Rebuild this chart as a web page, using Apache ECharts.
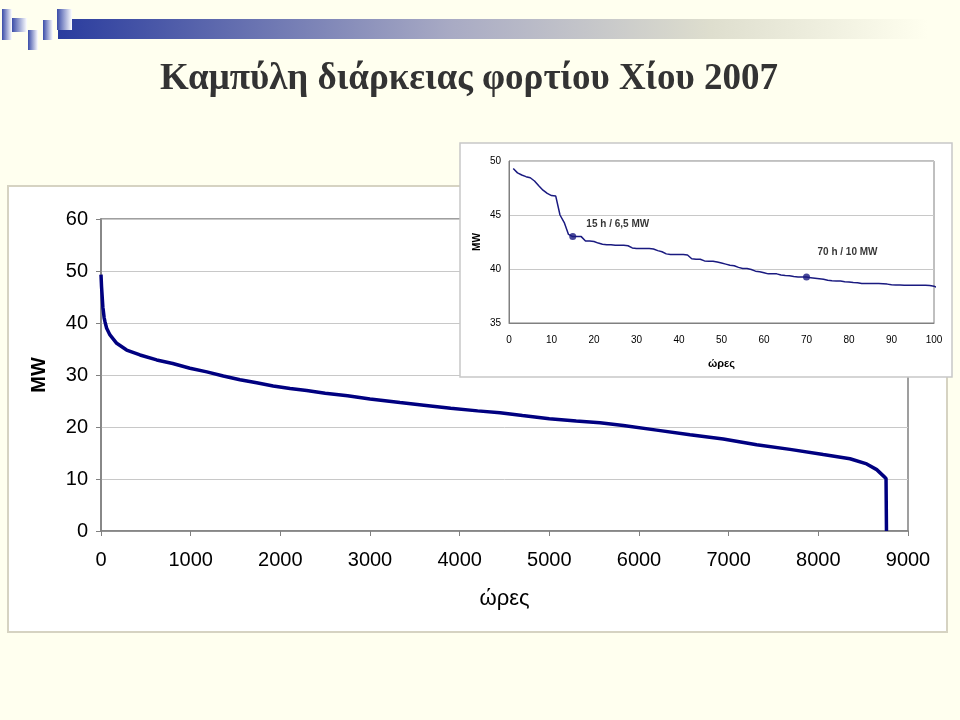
<!DOCTYPE html>
<html>
<head>
<meta charset="utf-8">
<script src="https://cdn.jsdelivr.net/npm/echarts@6/dist/echarts.min.js"></script>
<style>
html,body{margin:0;padding:0;background:#FFFFEF;}
#c{width:960px;height:720px;}
</style>
</head>
<body>
<div id="c"></div>
<script>
// ---- data ----
const titleText = 'Καμπύλη διάρκειας φορτίου Χίου 2007';
const xName = 'ώρες';
const yName = 'MW';
// main load-duration curve: [hour, MW]
const mainHours = [0,5,6,20,21,25,35,45,63,100,175,286,435,621,800,992,1180,1364,1550,1736,1920,2108,2294,2500,2750,3000,3334,3600,3900,4200,4450,4700,5000,5300,5565,5825,6197,6569,6940,7312,7684,8055,8353,8539,8651,8725,8755,8760];
const mainMW    = [49.3,49.3,47.0,46.8,43.0,42.5,41.0,40.2,39.0,37.7,36.1,34.8,33.85,32.9,32.2,31.3,30.6,29.8,29.1,28.5,27.9,27.4,27.0,26.5,26.0,25.4,24.7,24.2,23.6,23.1,22.75,22.2,21.6,21.15,20.8,20.3,19.4,18.5,17.7,16.6,15.7,14.7,13.9,12.9,11.8,10.6,10.1,0];
// inset: first 101 hours
const insetMW = [49.3,48.9,48.7,48.55,48.45,48.15,47.7,47.3,47.0,46.8,46.75,45.0,44.3,43.2,43.0,43.0,43.0,42.6,42.6,42.55,42.4,42.3,42.25,42.25,42.2,42.2,42.2,42.15,41.95,41.9,41.9,41.9,41.9,41.85,41.7,41.6,41.4,41.35,41.35,41.35,41.35,41.3,40.95,40.9,40.9,40.75,40.72,40.72,40.65,40.55,40.45,40.35,40.3,40.15,40.05,40.05,39.95,39.8,39.75,39.65,39.55,39.55,39.55,39.45,39.4,39.38,39.3,39.25,39.25,39.25,39.2,39.15,39.1,39.05,38.95,38.92,38.9,38.88,38.83,38.8,38.75,38.72,38.65,38.65,38.65,38.65,38.65,38.63,38.6,38.55,38.52,38.52,38.5,38.5,38.5,38.5,38.5,38.5,38.48,38.4,38.25];
const markHours = [15, 70];
const markMW = [43.0, 39.25];
const markLabels = ['15 h / 6,5 MW', '70 h / 10 MW'];

const mainData = mainHours.map((h,i)=>[h, mainMW[i]]);
const insetData = insetMW.map((v,i)=>[i+1, v]);
const markData = markHours.map((h,i)=>({value:[h, markMW[i]], label:{formatter: markLabels[i], offset: i===0 ? [45,-12] : [41,-25]}}));

const chart = echarts.init(document.getElementById('c'), null, {renderer:'canvas'});
const F = 'Liberation Sans, Arial, sans-serif';
const navy = '#000080';
const gray = '#808080';
const gridC = '#C8C8C8';
const plain = v => String(v);

const blueGrad = (c1,c2)=>new echarts.graphic.LinearGradient(0,0,1,0,[{offset:0,color:c1},{offset:1,color:c2}]);

chart.setOption({
  backgroundColor:'#FFFFEF',
  animation:false,
  graphic:[
    // header bar
    {type:'rect', shape:{x:58,y:19,width:870,height:20}, style:{fill:new echarts.graphic.LinearGradient(0,0,1,0,[{offset:0,color:'#2A3C9E'},{offset:0.45,color:'#A8AAC4'},{offset:0.75,color:'#DEDECE'},{offset:1,color:'#FFFFEF'}])}, z:1},
    {type:'rect', shape:{x:2,y:9,width:10,height:31}, style:{fill:blueGrad('#3A4CA8','#FFFFFF')}, z:2},
    {type:'rect', shape:{x:12,y:18,width:15,height:14}, style:{fill:blueGrad('#3A4CA8','#FFFFFF')}, z:2},
    {type:'rect', shape:{x:28,y:30,width:10,height:20}, style:{fill:blueGrad('#3A4CA8','#FFFFFF')}, z:2},
    {type:'rect', shape:{x:43,y:20,width:10,height:20}, style:{fill:blueGrad('#3A4CA8','#FFFFFF')}, z:2},
    {type:'rect', shape:{x:57,y:9,width:15,height:21}, style:{fill:blueGrad('#3A4CA8','#FFFFFF')}, z:2},
    // title
    {type:'text', x:469, y:79, style:{text:titleText, font:'bold 37px "Liberation Serif", "Times New Roman", serif', fill:'#333333', textAlign:'center', textVerticalAlign:'middle'}, z:2},
    // main chart box
    {type:'rect', shape:{x:8,y:186,width:939,height:446}, style:{fill:'#FFFFFF', stroke:'#D6D3C2', lineWidth:2}, z:-1},
    // inset box
    {type:'rect', shape:{x:460,y:143,width:492,height:234}, style:{fill:'#FFFFFF', stroke:'#C8C8C8', lineWidth:1.5}, z:10}
  ],
  grid:[
    {left:101, top:219, width:807, height:312, show:true, borderColor:gray, borderWidth:1.5, backgroundColor:'transparent', z:1},
    {left:509, top:161, width:425, height:162, show:true, borderColor:gray, borderWidth:1, backgroundColor:'transparent', z:11}
  ],
  xAxis:[
    {type:'value', gridIndex:0, min:0, max:9000, interval:1000, z:1,
     axisLine:{show:true, lineStyle:{color:gray, width:1.5}},
     axisTick:{show:true, length:5, lineStyle:{color:gray}},
     splitLine:{show:false},
     axisLabel:{fontFamily:F, fontSize:20, color:'#000', margin:19, formatter:plain},
     name:xName, nameLocation:'middle', nameGap:57, nameTextStyle:{fontFamily:F, fontSize:22, color:'#000'}},
    {type:'value', gridIndex:1, min:0, max:100, interval:10, z:11,
     axisLine:{show:true, lineStyle:{color:gray, width:1}},
     axisTick:{show:false},
     splitLine:{show:false},
     axisLabel:{fontFamily:F, fontSize:10, color:'#000', margin:12, formatter:plain},
     name:xName, nameLocation:'middle', nameGap:35, nameTextStyle:{fontFamily:F, fontSize:11, fontWeight:'bold', color:'#000'}}
  ],
  yAxis:[
    {type:'value', gridIndex:0, min:0, max:60, interval:10, z:1,
     axisLine:{show:true, lineStyle:{color:gray, width:1.5}},
     axisTick:{show:true, length:5, lineStyle:{color:gray}},
     splitLine:{show:true, lineStyle:{color:gridC, width:1}},
     axisLabel:{fontFamily:F, fontSize:20, color:'#000', margin:13, formatter:plain},
     name:yName, nameLocation:'middle', nameGap:52, nameRotate:90, nameTextStyle:{fontFamily:F, fontSize:20, fontWeight:'bold', color:'#000'}},
    {type:'value', gridIndex:1, min:35, max:50, interval:5, z:11,
     axisLine:{show:true, lineStyle:{color:gray, width:1}},
     axisTick:{show:false},
     splitLine:{show:true, lineStyle:{color:gridC, width:1}},
     axisLabel:{fontFamily:F, fontSize:10, color:'#000', margin:8, formatter:plain},
     name:yName, nameLocation:'middle', nameGap:27, nameRotate:90, nameTextStyle:{fontFamily:F, fontSize:10, fontWeight:'bold', color:'#000'}}
  ],
  series:[
    {type:'line', xAxisIndex:0, yAxisIndex:0, data:mainData, showSymbol:false, z:3,
     lineStyle:{color:navy, width:3.5}, itemStyle:{color:navy}},
    {type:'line', xAxisIndex:1, yAxisIndex:1, data:insetData, showSymbol:false, z:12,
     lineStyle:{color:'#1A1A80', width:1.5}, itemStyle:{color:'#1A1A80'}},
    {type:'scatter', xAxisIndex:1, yAxisIndex:1, data:markData, symbolSize:7, z:13,
     itemStyle:{color:'#1A1A80'},
     label:{show:true, position:'inside', fontFamily:F, fontSize:10, fontWeight:'bold', color:'#000'}}
  ]
});
</script>
</body>
</html>
